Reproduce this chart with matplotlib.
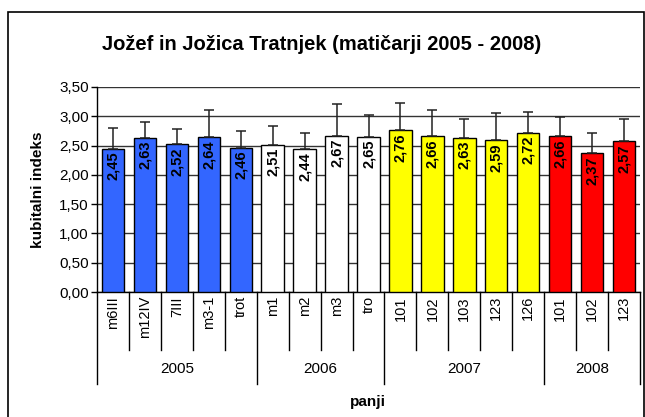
import matplotlib
matplotlib.use("Agg")
import matplotlib.pyplot as plt
from matplotlib.patches import Rectangle
import matplotlib.transforms as mtransforms

plt.rcParams['font.family'] = ['Liberation Sans', 'DejaVu Sans']

categories = ["m6III", "m12IV", "7III", "m3-1", "trot",
              "m1", "m2", "m3", "tro",
              "101", "102", "103", "123", "126",
              "101", "102", "123"]
values = [2.45, 2.63, 2.52, 2.64, 2.46,
          2.51, 2.44, 2.67, 2.65,
          2.76, 2.66, 2.63, 2.59, 2.72,
          2.66, 2.37, 2.57]
errors = [0.35, 0.28, 0.26, 0.47, 0.29,
          0.32, 0.27, 0.54, 0.37,
          0.47, 0.45, 0.33, 0.46, 0.35,
          0.33, 0.34, 0.39]
years = ["2005", "2006", "2007", "2008"]
group_sizes = [5, 4, 5, 3]
group_colors = ["#3366FF", "#FFFFFF", "#FFFF00", "#FF0000"]
yticks = [0.0, 0.5, 1.0, 1.5, 2.0, 2.5, 3.0, 3.5]

colors = []
for c, n in zip(group_colors, group_sizes):
    colors += [c] * n

W, H = 645, 417
fig = plt.figure(figsize=(W / 100, H / 100), dpi=100)
ax = fig.add_axes([97 / W, 1 - 292 / H, (640 - 97) / W, (292 - 87) / H])

x = list(range(len(categories)))
ax.bar(x, values, width=0.7, color=colors, edgecolor="black", linewidth=1.0, zorder=3)
ax.errorbar(x, values, yerr=[[0] * len(errors), errors], fmt="none",
            ecolor="#222222", elinewidth=1.1, capsize=3.5, capthick=1.1, zorder=4)

for xi, v in zip(x, values):
    ax.text(xi, v - 0.05, f"{v:.2f}".replace(".", ","), rotation=90,
            ha="center", va="top", fontsize=10.5, fontweight="bold", zorder=5)

ax.set_xlim(-0.5, len(categories) - 0.5)
ax.set_ylim(0, 3.5)
ax.set_yticks(yticks)
ax.set_yticklabels([f"{t:.2f}".replace(".", ",") for t in yticks], fontsize=11)
ax.yaxis.grid(True, color="#333333", linewidth=1.0, zorder=0)
ax.set_axisbelow(True)
for s in ["top", "right"]:
    ax.spines[s].set_visible(False)
ax.spines["left"].set_linewidth(1.0)
ax.spines["bottom"].set_linewidth(1.0)
ax.tick_params(axis="y", length=4, width=1, pad=2)
ax.set_xticks([])

trans = mtransforms.blended_transform_factory(ax.transData, ax.transAxes)
# category labels
for xi, c in zip(x, categories):
    ax.text(xi, -0.02, c, rotation=90, ha="center", va="top", fontsize=10.5,
            transform=trans)
# separators
boundaries = set()
acc = 0
for n in group_sizes:
    boundaries.add(acc)
    acc += n
boundaries.add(acc)
for b in range(len(categories) + 1):
    yb = -0.45 if b in boundaries else -0.285
    ax.plot([b - 0.5, b - 0.5], [0, yb], color="black", linewidth=1.0,
            transform=trans, clip_on=False)
# group labels
acc = 0
for yr, n in zip(years, group_sizes):
    ax.text(acc + n / 2 - 0.5, -0.375, yr, ha="center", va="center",
            fontsize=11, transform=trans)
    acc += n

ax.set_ylabel("kubitalni indeks", fontsize=11, fontweight="bold", labelpad=10)
fig.text(368 / W, 1 - 402 / H, "panji", ha="center", va="center",
         fontsize=11, fontweight="bold")
fig.text(322 / W, 1 - 44 / H, "Jožef in Jožica Tratnjek (matičarji 2005 - 2008)",
         ha="center", va="center", fontsize=14.5, fontweight="bold")

fig.patches.append(Rectangle((8 / W, -0.05), (644 - 8) / W, 1 - 12 / H + 0.05,
                             transform=fig.transFigure, fill=False,
                             edgecolor="black", linewidth=1.2))

fig.savefig("out.png", dpi=100)
